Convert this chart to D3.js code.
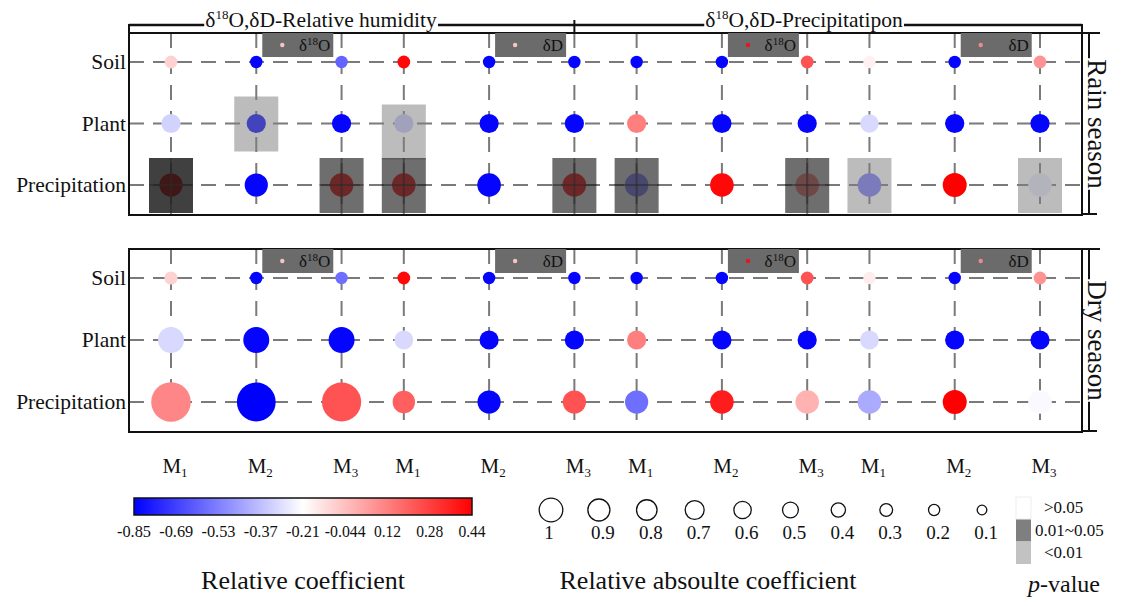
<!DOCTYPE html>
<html>
<head>
<meta charset="utf-8">
<script src="https://cdn.jsdelivr.net/npm/d3@7"></script>
<style>
  body { margin: 0; background: #fff; }
  svg text { font-family: "Liberation Serif", "Times New Roman", serif; fill: #111; }
</style>
</head>
<body>
<div id="chart"></div>
<script>
// ---- data ----
const columns = ["M1", "M2", "M3", "M1", "M2", "M3", "M1", "M2", "M3", "M1", "M2", "M3"];
const rows = ["Soil", "Plant", "Precipitation"];
const groups = ["δ18O,δD-Relative humidity", "δ18O,δD-Precipitatipon"];

// relative coefficient (colour), one array per row
const rainCoef = [
  [-0.09, -0.84, -0.6, 0.42, -0.84, -0.84, -0.84, -0.84, 0.23, -0.17, -0.84, 0.07],
  [-0.32, -0.84, -0.84, -0.35, -0.84, -0.84, 0.12, -0.84, -0.84, -0.3, -0.84, -0.84],
  [0.44, -0.84, 0.44, 0.44, -0.84, 0.44, -0.55, 0.42, 0.15, -0.55, 0.44, -0.25]
];
// relative absolute coefficient (size)
const rainSize = [
  [0.32, 0.31, 0.31, 0.32, 0.31, 0.31, 0.31, 0.31, 0.32, 0.31, 0.31, 0.32],
  [0.48, 0.48, 0.48, 0.48, 0.48, 0.48, 0.48, 0.48, 0.48, 0.46, 0.48, 0.48],
  [0.58, 0.58, 0.59, 0.59, 0.59, 0.59, 0.59, 0.59, 0.59, 0.59, 0.6, 0.59]
];
// p-value class
const rainP = [
  ["", "", "", "", "", "", "", "", "", "", "", ""],
  ["", "light", "", "light", "", "", "", "", "", "", "", ""],
  ["dark", "", "mid", "mid", "", "mid", "mid", "", "mid", "light", "", "light"]
];

const dryCoef = [
  [-0.09, -0.84, -0.57, 0.42, -0.84, -0.84, -0.84, -0.84, 0.23, -0.16, -0.84, 0.07],
  [-0.3, -0.84, -0.84, -0.3, -0.84, -0.84, 0.12, -0.84, -0.84, -0.3, -0.84, -0.84],
  [0.1, -0.85, 0.23, 0.2, -0.84, 0.23, -0.57, 0.37, -0.01, -0.42, 0.44, -0.22]
];
const drySize = [
  [0.33, 0.31, 0.31, 0.32, 0.31, 0.31, 0.31, 0.31, 0.32, 0.31, 0.31, 0.32],
  [0.65, 0.65, 0.65, 0.47, 0.48, 0.48, 0.48, 0.48, 0.48, 0.47, 0.48, 0.48],
  [0.99, 0.97, 0.98, 0.56, 0.58, 0.58, 0.58, 0.59, 0.59, 0.59, 0.6, 0.59]
];

const keyBoxes = [
  { col: 1, label: "δ", sup: "18", tail: "O", dot: "#f5c4c4" },
  { col: 4, label: "δD", sup: "", tail: "", dot: "#f5c4c4" },
  { col: 7, label: "δ", sup: "18", tail: "O", dot: "#e8141e" },
  { col: 10, label: "δD", sup: "", tail: "", dot: "#f08a8a" }
];

const colorTicks = [-0.85, -0.69, -0.53, -0.37, -0.21, -0.044, 0.12, 0.28, 0.44];
const sizeTicks = [1, 0.9, 0.8, 0.7, 0.6, 0.5, 0.4, 0.3, 0.2, 0.1];
const pLabels = [">0.05", "0.01~0.05", "<0.01"];

// ---- layout ----
const W = 1123, H = 606;
const left = 129, right = 1082;
const svg = d3.select("#chart").append("svg").attr("width", W).attr("height", H);

// columns come in groups of three with a narrower gap between groups
const gapCut = 0.27;
const xs = d3.scaleLinear().domain([0, 11 - 3 * gapCut]).range([171, 1040]);
const colX = (i) => xs(i - Math.floor(i / 3) * gapCut);

const color = d3.scaleLinear().domain([-0.85, -0.205, 0.44]).range(["#0000ff", "#ffffff", "#ff0000"]);
const rScale = d3.scaleLinear().domain([0, 1]).range([0, 20]);

const pStyle = {
  dark: { fill: "#1c1c1c", op: 0.84 },
  mid: { fill: "#363636", op: 0.72 },
  light: { fill: "#7e7e7e", op: 0.52 }
};

const panels = [
  { name: "Rain season", top: 33, bottom: 215, coef: rainCoef, size: rainSize, p: rainP },
  { name: "Dry season", top: 249, bottom: 432, coef: dryCoef, size: drySize, p: null }
];

panels.forEach((pn) => {
  const y = d3.scalePoint().domain(rows).range([pn.top + 29, pn.bottom - 30]);
  const g = svg.append("g");

  // grid
  g.selectAll(".hl").data(rows).join("line")
    .attr("x1", left).attr("x2", right)
    .attr("y1", (d) => y(d)).attr("y2", (d) => y(d))
    .attr("stroke", "#7a7a7a").attr("stroke-width", 2).attr("stroke-dasharray", "15,9");
  g.selectAll(".vl").data(columns).join("line")
    .attr("x1", (d, i) => colX(i)).attr("x2", (d, i) => colX(i))
    .attr("y1", pn.top).attr("y2", pn.bottom)
    .attr("stroke", "#7a7a7a").attr("stroke-width", 2).attr("stroke-dasharray", "15,11");

  // row labels
  g.selectAll(".rl").data(rows).join("text")
    .attr("x", left - 3).attr("y", (d) => y(d) + 7)
    .attr("text-anchor", "end").attr("font-size", 21.5).text((d) => d);

  // bubbles
  const cells = [];
  rows.forEach((rw, ri) => columns.forEach((c, ci) => {
    cells.push({ ri, ci, row: rw, coef: pn.coef[ri][ci], size: pn.size[ri][ci], p: pn.p ? pn.p[ri][ci] : "" });
  }));
  g.selectAll("circle.cell").data(cells).join("circle")
    .attr("cx", (d) => colX(d.ci)).attr("cy", (d) => y(d.row))
    .attr("r", (d) => rScale(d.size)).attr("fill", (d) => color(d.coef));

  // p-value boxes
  const boxed = cells.filter((d) => d.p);
  const boxTop = (d) => y(d.row) - 27 + (d.ri === 1 && d.ci === 3 ? 8 : 0);
  g.selectAll("rect.pbox").data(boxed).join("rect")
    .attr("x", (d) => colX(d.ci) - 22)
    .attr("y", boxTop)
    .attr("width", 44)
    .attr("height", (d) => Math.min(55, pn.bottom - boxTop(d)))
    .attr("fill", (d) => pStyle[d.p].fill).attr("fill-opacity", (d) => pStyle[d.p].op);
  const crossed = boxed.filter((d) => d.p !== "light");
  g.selectAll("line.ch").data(crossed).join("line")
    .attr("x1", (d) => colX(d.ci) - 22).attr("x2", (d) => colX(d.ci) + 22)
    .attr("y1", (d) => y(d.row)).attr("y2", (d) => y(d.row))
    .attr("stroke", "#2a2a2a").attr("stroke-opacity", 0.55).attr("stroke-width", 2);
  g.selectAll("line.cv").data(crossed).join("line")
    .attr("x1", (d) => colX(d.ci)).attr("x2", (d) => colX(d.ci))
    .attr("y1", boxTop).attr("y2", pn.bottom)
    .attr("stroke", "#2a2a2a").attr("stroke-opacity", 0.55).attr("stroke-width", 2);

  // frame
  g.append("rect").attr("x", left).attr("y", pn.top)
    .attr("width", right - left).attr("height", pn.bottom - pn.top)
    .attr("fill", "none").attr("stroke", "#111").attr("stroke-width", 2);

  // key boxes (δ18O / δD)
  const kb = g.selectAll("g.kb").data(keyBoxes).join("g")
    .attr("transform", (d) => `translate(${colX(d.col) + 6},${pn.top})`);
  kb.append("rect").attr("width", 71).attr("height", 24).attr("fill", "#6b6b6b");
  kb.append("circle").attr("cx", 20).attr("cy", 12).attr("r", 2.2).attr("fill", (d) => d.dot);
  const kt = kb.append("text").attr("x", 68).attr("y", 18).attr("text-anchor", "end").attr("font-size", 17);
  kt.append("tspan").text((d) => d.label);
  kt.append("tspan").attr("font-size", 11).attr("dy", -6).text((d) => d.sup);
  kt.append("tspan").attr("dy", (d) => (d.sup ? 6 : 0)).text((d) => d.tail);

  // right bracket with season name
  const bx = 1089, mid = (pn.top + pn.bottom) / 2;
  const st = g.append("text")
    .attr("transform", `translate(${bx - 1},${mid}) rotate(90)`)
    .attr("text-anchor", "middle").attr("font-size", 27).text(pn.name);
  const half = st.node().getComputedTextLength() / 2;
  const br = g.append("g").attr("stroke", "#111").attr("stroke-width", 2);
  br.append("line").attr("x1", right).attr("x2", 1100).attr("y1", pn.top).attr("y2", pn.top);
  br.append("line").attr("x1", right).attr("x2", 1097).attr("y1", pn.bottom - 1).attr("y2", pn.bottom - 1);
  br.append("line").attr("x1", bx).attr("x2", bx).attr("y1", pn.top).attr("y2", mid - half - 1);
  br.append("line").attr("x1", bx).attr("x2", bx).attr("y1", mid + half + 1).attr("y2", pn.bottom);
});

// ---- top group brackets ----
const topY = 25;
const gTitles = [
  { text: groups[0], cx: 321 },
  { text: groups[1], cx: 804 }
];
const tg = svg.append("g");
tg.append("line").attr("x1", left).attr("x2", left).attr("y1", topY - 1).attr("y2", 33).attr("stroke", "#111").attr("stroke-width", 2);
tg.append("line").attr("x1", colX(5)).attr("x2", colX(5)).attr("y1", 20).attr("y2", 33).attr("stroke", "#111").attr("stroke-width", 2);
tg.append("line").attr("x1", right).attr("x2", right).attr("y1", topY - 1).attr("y2", 33).attr("stroke", "#111").attr("stroke-width", 2);
gTitles.forEach((t, i) => {
  const txt = tg.append("text").attr("x", t.cx).attr("y", 27).attr("text-anchor", "middle").attr("font-size", 21.5);
  txt.append("tspan").text("δ");
  txt.append("tspan").attr("font-size", 13).attr("dy", -8).text("18");
  txt.append("tspan").attr("dy", 8).text(t.text.slice(3));
  const bb = txt.node().getBBox();
  const x0 = i === 0 ? left : colX(5);
  const x1 = i === 0 ? colX(5) : right;
  tg.append("line").attr("x1", x0).attr("x2", bb.x - 1).attr("y1", topY).attr("y2", topY).attr("stroke", "#111").attr("stroke-width", 2.5);
  tg.append("line").attr("x1", bb.x + bb.width + 1).attr("x2", x1).attr("y1", topY).attr("y2", topY).attr("stroke", "#111").attr("stroke-width", 2.5);
});

// ---- column labels ----
const ml = svg.selectAll("text.ml").data(columns).join("text")
  .attr("x", (d, i) => colX(i) + 4).attr("y", 473)
  .attr("text-anchor", "middle").attr("font-size", 21);
ml.append("tspan").text((d) => d[0]);
ml.append("tspan").attr("font-size", 13).attr("dy", 4).text((d) => d[1]);

// ---- colour bar ----
const cb = { x: 134, y: 498, w: 338, h: 17 };
const defs = svg.append("defs");
const grad = defs.append("linearGradient").attr("id", "cbar");
d3.range(0, 1.0001, 0.05).forEach((t) => {
  grad.append("stop").attr("offset", t).attr("stop-color", color(-0.85 + t * 1.29));
});
svg.append("rect").attr("x", cb.x).attr("y", cb.y).attr("width", cb.w).attr("height", cb.h)
  .attr("fill", "url(#cbar)").attr("stroke", "#111").attr("stroke-width", 1.5);
const cbx = d3.scalePoint().domain(colorTicks).range([cb.x, cb.x + cb.w]);
svg.selectAll("text.ct").data(colorTicks).join("text")
  .attr("x", (d) => cbx(d)).attr("y", 537).attr("text-anchor", "middle")
  .attr("font-size", 17).attr("textLength", (d) => String(d).length * 6.8)
  .attr("lengthAdjust", "spacingAndGlyphs")
  .text((d) => String(d));
svg.append("text").attr("x", cb.x + cb.w / 2).attr("y", 589).attr("text-anchor", "middle")
  .attr("font-size", 26).text("Relative coefficient");

// ---- size legend ----
const sx = d3.scalePoint().domain(sizeTicks).range([551, 982]);
const sr = d3.scaleLinear().domain([0.1, 1]).range([4.8, 11.8]);
svg.selectAll("circle.sl").data(sizeTicks).join("circle")
  .attr("cx", (d) => sx(d)).attr("cy", 510).attr("r", (d) => sr(d))
  .attr("fill", "none").attr("stroke", "#111").attr("stroke-width", 1.3);
svg.selectAll("text.sl").data(sizeTicks).join("text")
  .attr("x", (d) => sx(d) + (d === 1 ? -2 : 4)).attr("y", 539).attr("text-anchor", "middle")
  .attr("font-size", 19).text((d) => String(d));
svg.append("text").attr("x", 708).attr("y", 589).attr("text-anchor", "middle")
  .attr("font-size", 26).text("Relative absoulte coefficient");

// ---- p-value legend ----
const pCols = ["#ffffff", "#7f7f7f", "#c2c2c2"];
const py = d3.scalePoint().domain(pLabels).range([508, 553]);
svg.selectAll("rect.pl").data(pLabels).join("rect")
  .attr("x", 1016).attr("y", (d) => py(d) - 11).attr("width", 15).attr("height", 22)
  .attr("fill", (d, i) => pCols[i]).attr("stroke", (d, i) => (i === 0 ? "#eee" : "none"));
svg.selectAll("text.pl").data(pLabels).join("text")
  .attr("x", (d, i) => (i === 1 ? 1035 : 1044)).attr("y", (d) => py(d) + 5)
  .attr("font-size", 17).text((d) => d);
const pv = svg.append("text").attr("x", 1028).attr("y", 592).attr("font-size", 24);
pv.append("tspan").attr("font-style", "italic").text("p");
pv.append("tspan").text("-value");
</script>
</body>
</html>
